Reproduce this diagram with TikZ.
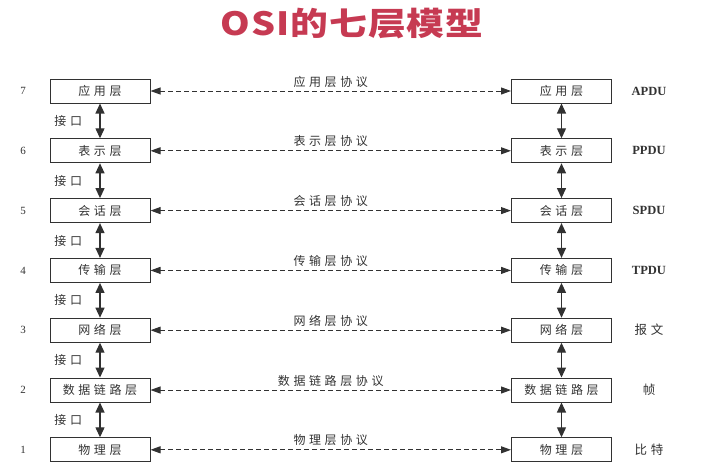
\documentclass[tikz,border=0pt]{standalone}
\usepackage{fontspec}
\usepackage{tikz}
\usetikzlibrary{arrows.meta}
\setmainfont{Liberation Serif}
\newfontfamily\cjk[LetterSpace=30]{Noto Sans CJK SC}
\newfontfamily\titlefont[FakeStretch=1.18, LetterSpace=3]{Noto Sans CJK SC}
\definecolor{titlered}{RGB}{198,58,82}
\definecolor{ink}{RGB}{50,50,50}

\tikzset{
	layer/.style={draw=ink, line width=1pt, minimum width=100pt, minimum height=24pt, inner sep=0pt, text=ink, font=\cjk\fontsize{12}{14}\selectfont},
	proto/.style={{Triangle[length=10pt,width=7pt]}-{Triangle[length=10pt,width=7pt]}, ink, line width=1pt, dash pattern=on 5pt off 3pt},
	iface/.style={{Triangle[length=10pt,width=9pt]}-{Triangle[length=10pt,width=9pt]}, ink, line width=1.2pt},
	cjklabel/.style={text=ink, font=\cjk\fontsize{12}{14}\selectfont},
	pdu/.style={text=ink, font=\bfseries\fontsize{12.5}{14}\selectfont}
}

\begin{document}
\begin{tikzpicture}[x=1pt, y=-1pt]
	\useasboundingbox (0,0) rectangle (704,464);
	\node [text=titlered, font=\titlefont\bfseries\fontsize{32}{34}\selectfont] (title) at (352,24) {OSI的七层模型};

	% one row per layer
	\foreach \n/\lname/\pname [count=\k from 0] in {7/应用层/APDU, 6/表示层/PPDU, 5/会话层/SPDU, 4/传输层/TPDU, 3/网络层/{\mdseries\cjk 报文}, 2/数据链路层/{\mdseries\cjk 帧}, 1/物理层/{\mdseries\cjk 比特}} {
		\node [text=ink, font=\fontsize{11}{12}\selectfont] (N\n) at (23, 91+59.8*\k) {\n};
		\node [layer] (L\n) at (100, 91+59.8*\k) {\lname};
		\node [layer] (R\n) at (561.5, 91+59.8*\k) {\lname};
		\node [pdu] (P\n) at (649, 91+59.8*\k) {\pname};
		\draw [proto] (L\n) -- (R\n) node [midway, above, cjklabel] {\lname{}协议};
	}

	% interfaces between layers
	\foreach \a/\b in {7/6, 6/5, 5/4, 4/3, 3/2, 2/1} {
		\draw [iface] (L\a) -- (L\b) node [midway, left=14pt, cjklabel] {接口};
		\draw [iface] (R\a) -- (R\b);
	}
\end{tikzpicture}
\end{document}
